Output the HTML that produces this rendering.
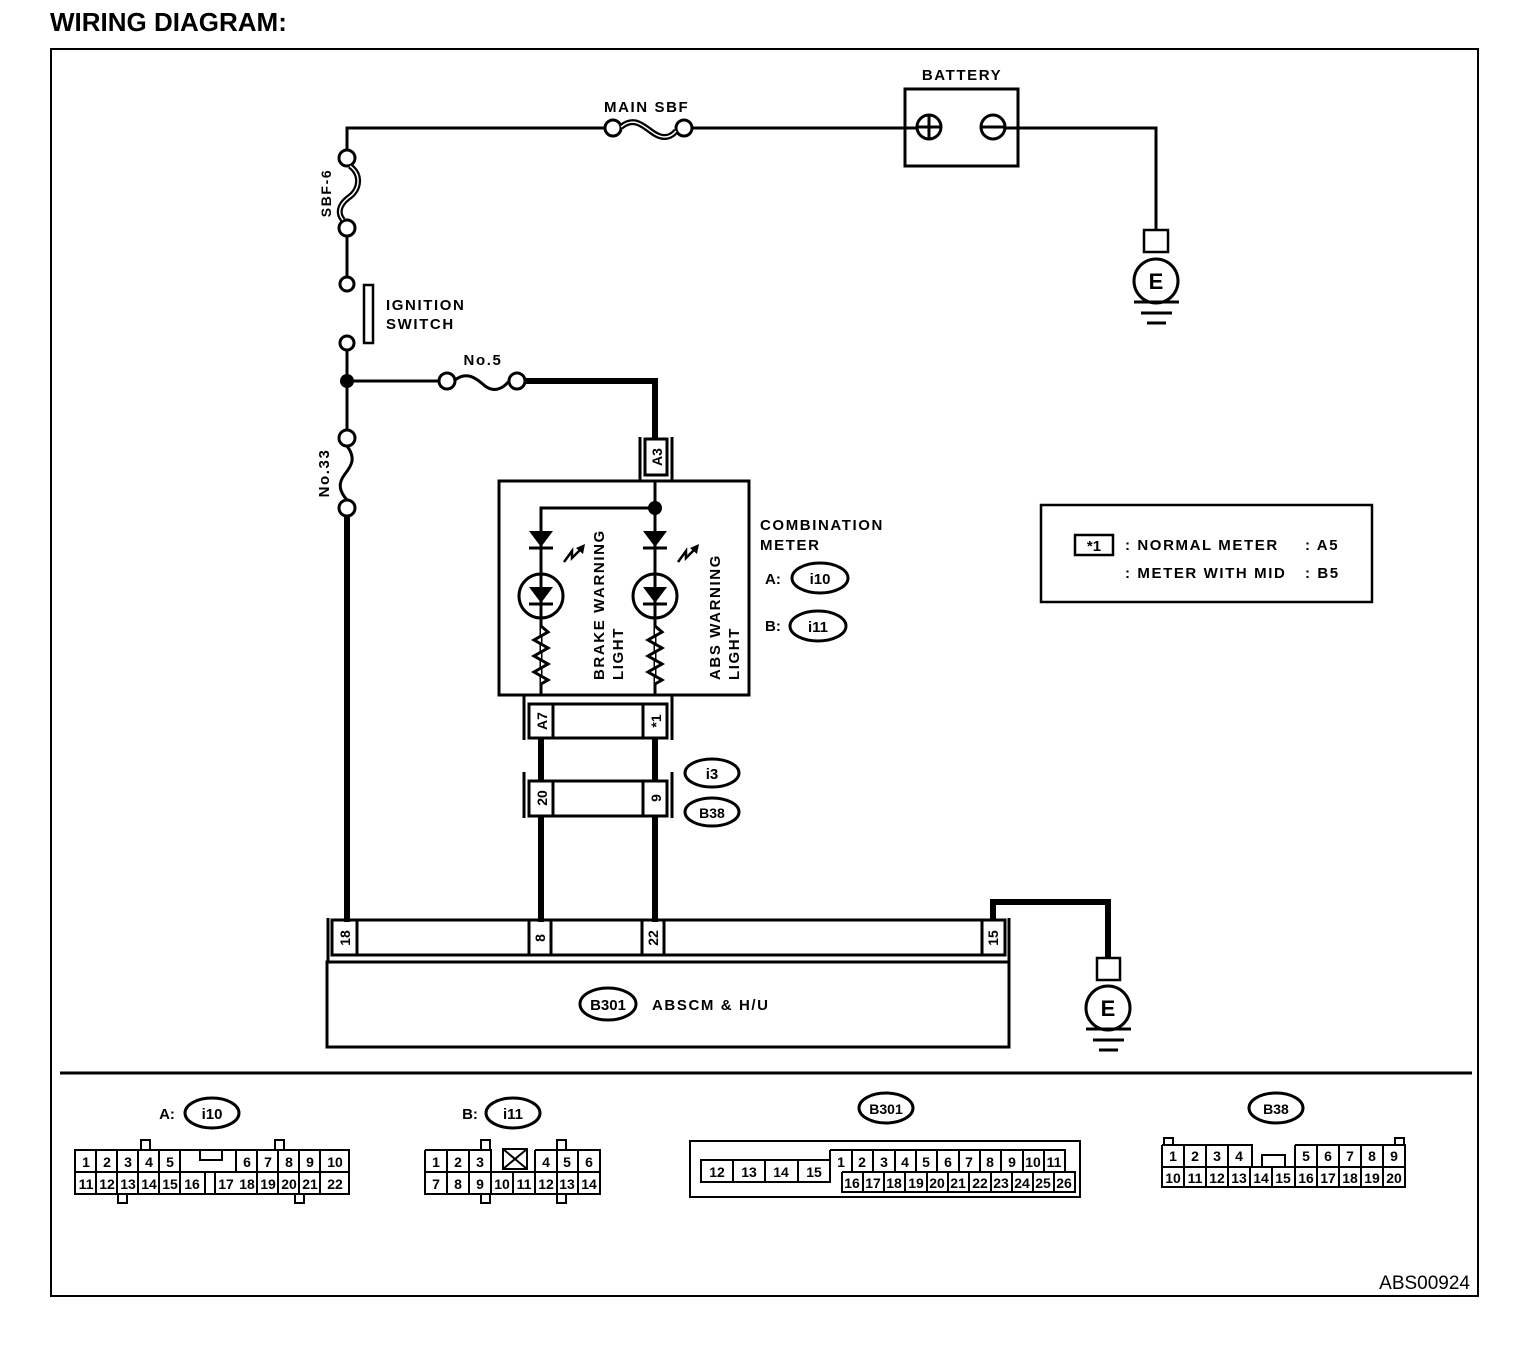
<!DOCTYPE html>
<html><head><meta charset="utf-8"><style>
html,body{margin:0;padding:0;background:#fff;}
svg{display:block;}
text{font-family:"Liberation Sans",Arial,sans-serif;font-weight:bold;fill:#000;}
.l{letter-spacing:1.6px;}
</style></head><body>
<svg width="1536" height="1370" viewBox="0 0 1536 1370" xmlns="http://www.w3.org/2000/svg">
<text x="50" y="31" font-size="26">WIRING DIAGRAM:</text>
<rect x="51" y="49" width="1427" height="1247" fill="none" stroke="#000" stroke-width="2"/>
<line x1="60" y1="1073" x2="1472" y2="1073" stroke="#000" stroke-width="3"/>
<text x="1470" y="1289" font-size="19" text-anchor="end" style="font-weight:normal">ABS00924</text>

<g fill="none" stroke="#000" stroke-width="3">
<polyline points="347,150 347,128 605,128"/>
<line x1="692" y1="128" x2="917" y2="128"/>
<polyline points="1005,128 1156,128 1156,230"/>
<circle cx="613" cy="128" r="8" fill="#fff"/>
<circle cx="684" cy="128" r="8" fill="#fff"/>
<path d="M621,127 C635,115 645,128 655,134 C665,140 672,136 676,131" stroke-width="6"/>
<path d="M621,127 C635,115 645,128 655,134 C665,140 672,136 676,131" stroke="#fff" stroke-width="1.5"/>
<rect x="905" y="89" width="113" height="77"/>
<circle cx="929" cy="127" r="12"/>
<line x1="929" y1="115" x2="929" y2="139"/>
<line x1="917" y1="127" x2="941" y2="127"/>
<circle cx="993" cy="127" r="12"/>
<line x1="981" y1="127" x2="1005" y2="127"/>
<rect x="1144" y="230" width="24" height="22" stroke-width="2.5"/>
<circle cx="1156" cy="281" r="22"/>
<line x1="1134" y1="302" x2="1179" y2="302"/>
<line x1="1141" y1="313" x2="1172" y2="313"/>
<line x1="1147" y1="323" x2="1166" y2="323"/>
<circle cx="347" cy="158" r="8" fill="#fff"/>
<circle cx="347" cy="228" r="8" fill="#fff"/>
<path d="M350,166 C362,175 360,190 348,198 C338,206 338,214 343,220" stroke-width="6"/>
<path d="M350,166 C362,175 360,190 348,198 C338,206 338,214 343,220" stroke="#fff" stroke-width="1.5"/>
<line x1="347" y1="236" x2="347" y2="277"/>
<circle cx="347" cy="284" r="7" fill="#fff"/>
<rect x="364" y="285" width="9" height="58" stroke-width="2.5"/>
<circle cx="347" cy="343" r="7" fill="#fff"/>
<line x1="347" y1="350" x2="347" y2="430"/>
<line x1="347" y1="381" x2="439" y2="381"/>
<circle cx="447" cy="381" r="8" fill="#fff"/>
<circle cx="517" cy="381" r="8" fill="#fff"/>
<path d="M455,380 C468,370 478,380 485,386 C493,392 502,390 509,381"/>
<circle cx="347" cy="438" r="8" fill="#fff"/>
<circle cx="347" cy="508" r="8" fill="#fff"/>
<path d="M347,446 C356,458 352,465 345,474 C337,484 340,492 347,500"/>
</g>
<circle cx="347" cy="381" r="7" fill="#000"/>
<g fill="none" stroke="#000" stroke-width="6">
<polyline points="525,381 655,381 655,438"/>
<line x1="347" y1="516" x2="347" y2="922"/>
<line x1="541" y1="738" x2="541" y2="781"/>
<line x1="655" y1="738" x2="655" y2="781"/>
<line x1="541" y1="816" x2="541" y2="922"/>
<line x1="655" y1="816" x2="655" y2="922"/>
<polyline points="993,920 993,902 1108,902 1108,958"/>
</g>
<text class="l" x="604" y="112" font-size="15">MAIN SBF</text>
<text class="l" x="962" y="80" font-size="15" text-anchor="middle">BATTERY</text>
<text x="1156" y="289" font-size="22" text-anchor="middle">E</text>
<text class="l" transform="translate(331,193) rotate(-90)" font-size="14" text-anchor="middle">SBF-6</text>
<text class="l" x="386" y="310" font-size="15">IGNITION</text>
<text class="l" x="386" y="329" font-size="15">SWITCH</text>
<text class="l" x="483" y="365" font-size="15" text-anchor="middle">No.5</text>
<text class="l" transform="translate(329,473) rotate(-90)" font-size="15" text-anchor="middle">No.33</text>

<g fill="none" stroke="#000" stroke-width="3">
<line x1="640" y1="437" x2="640" y2="481"/>
<line x1="672" y1="437" x2="672" y2="481"/>
<rect x="645" y="439" width="22" height="36" fill="#fff"/>
<rect x="499" y="481" width="250" height="214"/>
<line x1="655" y1="481" x2="655" y2="695"/>
<polyline points="655,508 541,508 541,695"/>
</g>
<circle cx="655" cy="508" r="7" fill="#000"/>
<text transform="translate(662,457) rotate(-90)" font-size="14" text-anchor="middle">A3</text>
<g id="led">
<polygon points="529,531 553,531 541,547" fill="#000"/>
<line x1="529" y1="548" x2="553" y2="548" stroke="#000" stroke-width="3"/>
<circle cx="541" cy="596" r="22" fill="#fff" stroke="#000" stroke-width="3"/>
<line x1="541" y1="574" x2="541" y2="618" stroke="#000" stroke-width="3"/>
<polygon points="529,587 553,587 541,603" fill="#000"/>
<line x1="529" y1="604" x2="553" y2="604" stroke="#000" stroke-width="3"/>
<polyline points="541,620 541,626 548,632 534,640 548,648 534,656 548,664 534,672 548,680 541,684 541,695" fill="#fff" stroke="#000" stroke-width="3"/>
<polyline points="564,562 572,551 572,558 582,548" fill="none" stroke="#000" stroke-width="2.5"/>
<polygon points="585,544 576,548 583,554" fill="#000"/>
</g>
<use href="#led" transform="translate(114,0)"/>
<text class="l" transform="translate(604,680) rotate(-90)" font-size="15">BRAKE WARNING</text>
<text class="l" transform="translate(623,680) rotate(-90)" font-size="15">LIGHT</text>
<text class="l" transform="translate(720,680) rotate(-90)" font-size="15">ABS WARNING</text>
<text class="l" transform="translate(739,680) rotate(-90)" font-size="15">LIGHT</text>
<text class="l" x="760" y="530" font-size="15">COMBINATION</text>
<text class="l" x="760" y="550" font-size="15">METER</text>
<text x="765" y="584" font-size="15">A:</text>
<ellipse cx="820" cy="578" rx="28" ry="15" fill="none" stroke="#000" stroke-width="3"/>
<text x="820" y="584" font-size="15" text-anchor="middle">i10</text>
<text x="765" y="631" font-size="15">B:</text>
<ellipse cx="818" cy="626" rx="28" ry="15" fill="none" stroke="#000" stroke-width="3"/>
<text x="818" y="632" font-size="15" text-anchor="middle">i11</text>

<g fill="none" stroke="#000" stroke-width="3">
<line x1="524" y1="695" x2="524" y2="740"/><line x1="672" y1="695" x2="672" y2="740"/>
<rect x="529" y="704" width="138" height="34"/>
<line x1="553" y1="704" x2="553" y2="738"/><line x1="643" y1="704" x2="643" y2="738"/>
<line x1="524" y1="772" x2="524" y2="818"/><line x1="672" y1="772" x2="672" y2="818"/>
<rect x="529" y="781" width="138" height="35"/>
<line x1="553" y1="781" x2="553" y2="816"/><line x1="643" y1="781" x2="643" y2="816"/>
</g>
<text transform="translate(547,721) rotate(-90)" font-size="14" text-anchor="middle">A7</text>
<text transform="translate(661,721) rotate(-90)" font-size="14" text-anchor="middle">*1</text>
<text transform="translate(547,798) rotate(-90)" font-size="14" text-anchor="middle">20</text>
<text transform="translate(661,798) rotate(-90)" font-size="14" text-anchor="middle">9</text>
<ellipse cx="712" cy="773" rx="27" ry="14" fill="none" stroke="#000" stroke-width="3"/>
<text x="712" y="779" font-size="15" text-anchor="middle">i3</text>
<ellipse cx="712" cy="812" rx="27" ry="14" fill="none" stroke="#000" stroke-width="3"/>
<text x="712" y="818" font-size="14" text-anchor="middle">B38</text>

<g fill="none" stroke="#000" stroke-width="3">
<line x1="328" y1="918" x2="328" y2="962"/><line x1="1009" y1="918" x2="1009" y2="962"/>
<rect x="332" y="920" width="673" height="35"/>
<line x1="357" y1="920" x2="357" y2="955"/>
<line x1="529" y1="920" x2="529" y2="955"/><line x1="551" y1="920" x2="551" y2="955"/>
<line x1="642" y1="920" x2="642" y2="955"/><line x1="664" y1="920" x2="664" y2="955"/>
<line x1="982" y1="920" x2="982" y2="955"/>
<rect x="327" y="962" width="682" height="85"/>
<ellipse cx="608" cy="1004" rx="28" ry="16"/>
<rect x="1097" y="958" width="23" height="22" stroke-width="2.5"/>
<circle cx="1108" cy="1008" r="22"/>
<line x1="1086" y1="1029" x2="1131" y2="1029"/>
<line x1="1093" y1="1040" x2="1124" y2="1040"/>
<line x1="1099" y1="1050" x2="1118" y2="1050"/>
</g>
<text transform="translate(350,938) rotate(-90)" font-size="14" text-anchor="middle">18</text>
<text transform="translate(545,938) rotate(-90)" font-size="14" text-anchor="middle">8</text>
<text transform="translate(658,938) rotate(-90)" font-size="14" text-anchor="middle">22</text>
<text transform="translate(998,938) rotate(-90)" font-size="14" text-anchor="middle">15</text>
<text x="608" y="1010" font-size="15" text-anchor="middle">B301</text>
<text class="l" x="652" y="1010" font-size="15">ABSCM &amp; H/U</text>
<text x="1108" y="1016" font-size="22" text-anchor="middle">E</text>

<rect x="1041" y="505" width="331" height="97" fill="none" stroke="#000" stroke-width="2.5"/>
<rect x="1075" y="535" width="38" height="20" fill="none" stroke="#000" stroke-width="2.5"/>
<text x="1094" y="551" font-size="15" text-anchor="middle">*1</text>
<text class="l" x="1125" y="550" font-size="15">: NORMAL METER</text>
<text class="l" x="1305" y="550" font-size="15">: A5</text>
<text class="l" x="1125" y="578" font-size="15">: METER WITH  MID</text>
<text class="l" x="1305" y="578" font-size="15">: B5</text>

<g font-size="14" text-anchor="middle" style="font-weight:normal">
<text x="167" y="1119" font-size="15">A:</text>
<ellipse cx="212" cy="1113" rx="27" ry="15" fill="none" stroke="#000" stroke-width="3"/>
<text x="212" y="1119" font-size="15">i10</text>
<text x="470" y="1119" font-size="15">B:</text>
<ellipse cx="513" cy="1113" rx="27" ry="15" fill="none" stroke="#000" stroke-width="3"/>
<text x="513" y="1119" font-size="15">i11</text>
<ellipse cx="886" cy="1108" rx="27" ry="15" fill="none" stroke="#000" stroke-width="3"/>
<text x="886" y="1114" font-size="14">B301</text>
<ellipse cx="1276" cy="1108" rx="27" ry="15" fill="none" stroke="#000" stroke-width="3"/>
<text x="1276" y="1114" font-size="14">B38</text>
</g>
<g fill="none" stroke="#000" stroke-width="2">
<rect x="141" y="1140" width="9" height="10"/><rect x="275" y="1140" width="9" height="10"/>
<rect x="118" y="1194" width="9" height="9"/><rect x="295" y="1194" width="9" height="9"/>
<rect x="75" y="1150" width="274" height="44"/>
<line x1="75" y1="1172" x2="349" y2="1172"/>
<path d="M96,1150v22M117,1150v44M138,1150v44M159,1150v44M180,1150v44M236,1150v22M257,1150v44M278,1150v44M299,1150v44M320,1150v44M205,1172v22M215,1172v22"/>
<path d="M200,1150v10h22v-10"/>
<path d="M96,1172v22"/>
<rect x="481" y="1140" width="9" height="10"/><rect x="557" y="1140" width="9" height="10"/>
<rect x="481" y="1194" width="9" height="9"/><rect x="557" y="1194" width="9" height="9"/>
<path d="M425,1150h66v22M535,1150h65v44h-175v-44M425,1172h175"/>
<path d="M447,1150v44M469,1150v44M491,1150v44M557,1150v44M578,1150v44M513,1172v22M535,1150v44"/>
<rect x="503" y="1149" width="24" height="20"/>
<path d="M503,1149l24,20M527,1149l-24,20"/>
<rect x="690" y="1141" width="390" height="56"/>
<rect x="701" y="1160" width="129" height="22"/>
<path d="M733,1160v22M765,1160v22M798,1160v22"/>
<path d="M830,1150h235v22M842,1172h233v20h-233v-20M830,1150v10"/>
<path d="M852,1150v22M873,1150v22M895,1150v22M916,1150v22M937,1150v22M959,1150v22M980,1150v22M1001,1150v22M1023,1150v22M1044,1150v22"/>
<path d="M863,1172v20M884,1172v20M905,1172v20M927,1172v20M948,1172v20M969,1172v20M991,1172v20M1012,1172v20M1033,1172v20M1054,1172v20"/>
<rect x="1164" y="1138" width="9" height="7"/><rect x="1395" y="1138" width="9" height="7"/>
<path d="M1162,1145h90v22M1295,1145h110v42h-243v-42M1162,1167h243M1295,1145v22"/>
<path d="M1184,1145v42M1206,1145v42M1228,1145v42M1250,1167v20M1272,1167v20M1295,1167v20M1317,1145v42M1339,1145v42M1361,1145v42M1383,1145v42"/>
<path d="M1262,1167v-12h23v12"/>
</g>
<g font-size="14" text-anchor="middle" style="font-weight:normal">
<g>
<text x="86" y="1167">1</text><text x="107" y="1167">2</text><text x="128" y="1167">3</text><text x="149" y="1167">4</text><text x="170" y="1167">5</text>
<text x="247" y="1167">6</text><text x="268" y="1167">7</text><text x="289" y="1167">8</text><text x="310" y="1167">9</text><text x="335" y="1167">10</text>
<text x="86" y="1189">11</text><text x="107" y="1189">12</text><text x="128" y="1189">13</text><text x="149" y="1189">14</text><text x="170" y="1189">15</text><text x="192" y="1189">16</text>
<text x="226" y="1189">17</text><text x="247" y="1189">18</text><text x="268" y="1189">19</text><text x="289" y="1189">20</text><text x="310" y="1189">21</text><text x="335" y="1189">22</text>
</g>
<g>
<text x="436" y="1167">1</text><text x="458" y="1167">2</text><text x="480" y="1167">3</text>
<text x="546" y="1167">4</text><text x="567" y="1167">5</text><text x="589" y="1167">6</text>
<text x="436" y="1189">7</text><text x="458" y="1189">8</text><text x="480" y="1189">9</text><text x="502" y="1189">10</text><text x="524" y="1189">11</text><text x="546" y="1189">12</text><text x="567" y="1189">13</text><text x="589" y="1189">14</text>
</g>
<g>
<text x="717" y="1177">12</text><text x="749" y="1177">13</text><text x="781" y="1177">14</text><text x="814" y="1177">15</text>
<text x="841" y="1167">1</text><text x="862" y="1167">2</text><text x="884" y="1167">3</text><text x="905" y="1167">4</text><text x="926" y="1167">5</text><text x="948" y="1167">6</text><text x="969" y="1167">7</text><text x="990" y="1167">8</text><text x="1012" y="1167">9</text><text x="1033" y="1167">10</text><text x="1054" y="1167">11</text>
<text x="852" y="1188">16</text><text x="873" y="1188">17</text><text x="894" y="1188">18</text><text x="916" y="1188">19</text><text x="937" y="1188">20</text><text x="958" y="1188">21</text><text x="980" y="1188">22</text><text x="1001" y="1188">23</text><text x="1022" y="1188">24</text><text x="1043" y="1188">25</text><text x="1064" y="1188">26</text>
</g>
<g>
<text x="1173" y="1161">1</text><text x="1195" y="1161">2</text><text x="1217" y="1161">3</text><text x="1239" y="1161">4</text>
<text x="1306" y="1161">5</text><text x="1328" y="1161">6</text><text x="1350" y="1161">7</text><text x="1372" y="1161">8</text><text x="1394" y="1161">9</text>
<text x="1173" y="1183">10</text><text x="1195" y="1183">11</text><text x="1217" y="1183">12</text><text x="1239" y="1183">13</text><text x="1261" y="1183">14</text><text x="1283" y="1183">15</text><text x="1306" y="1183">16</text><text x="1328" y="1183">17</text><text x="1350" y="1183">18</text><text x="1372" y="1183">19</text><text x="1394" y="1183">20</text>
</g>
</g>
</svg>
</body></html>
